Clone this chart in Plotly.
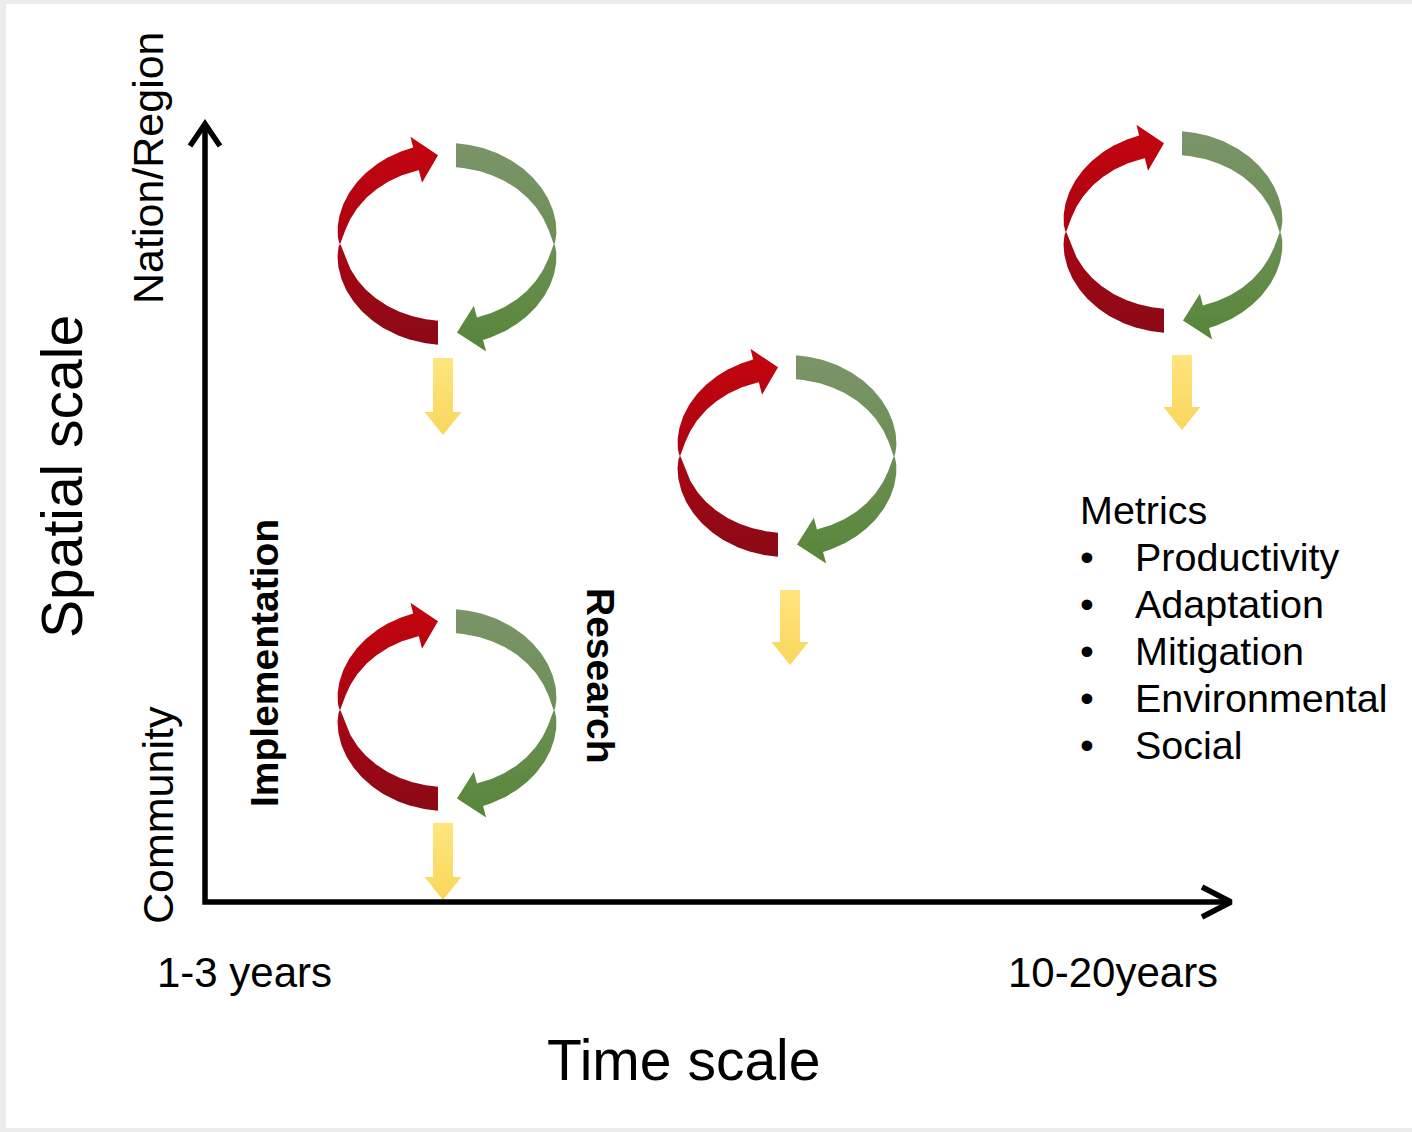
import numpy as np
import plotly.graph_objects as go

# ---------------- data ----------------
# cycle centres (time position, spatial position) in diagram units (pixels of the frame)
cycle_x = [447, 447, 787, 1173]
cycle_y = [244, 710, 456, 232]
# yellow "output" arrows under each cycle: x, shaft top, tip
out_x = [443, 443, 790, 1182]
out_top = [358, 823, 590, 355]
out_tip = [435, 900, 665, 430]

axis_origin = (205, 902)
axis_y_end = 124
axis_x_end = 1231

time_labels = ["1-3 years", "10-20years"]
time_label_x = [244, 1113]
space_labels = ["Nation/Region", "Community"]
space_label_y = [168, 815]

metrics_title = "Metrics"
metrics = ["Productivity", "Adaptation", "Mitigation", "Environmental", "Social"]

FONT = "Liberation Sans, Arial, sans-serif"

fig = go.Figure()

# cycle geometry (mid-line ellipse + twisted ribbon thickness)
A = 107.0
B = 89.0
T = 24.0
P = 0.62
GAP = 9.0


def mid(cx, cy, th):
    return cx + A * np.cos(th), cy - B * np.sin(th)


def normal(th):
    nx, ny = B * np.cos(th), -A * np.sin(th)
    n = np.hypot(nx, ny)
    return nx / n, ny / n


def thick(th):
    return T * np.abs(np.sin(th)) ** P


def edges(cx, cy, ts):
    mx, my = mid(cx, cy, ts)
    nx, ny = normal(ts)
    h = thick(ts) / 2
    return (mx + nx * h, my + ny * h), (mx - nx * h, my - ny * h)


def red_arrow(cx, cy):
    t_bot = 2 * np.pi - np.arccos(-GAP / A)
    t_sh = np.arccos(-31.0 / A)
    ts = np.linspace(t_bot, t_sh, 200)
    (xo, yo), (xi, yi) = edges(cx, cy, ts)
    xo[0] = xi[0] = cx - GAP
    t_tip = np.arccos(-GAP / A)
    tip = mid(cx, cy, t_tip)
    nx, ny = normal(t_sh)
    h = thick(t_sh) / 2
    mx, my = mid(cx, cy, t_sh)
    oc = (mx + nx * (h + 11), my + ny * (h + 11))
    ic = (mx - nx * (h + 13), my - ny * (h + 13))
    xs = list(xo) + [oc[0], tip[0], ic[0]] + list(xi[::-1]) + [xo[0]]
    ys = list(yo) + [oc[1], tip[1], ic[1]] + list(yi[::-1]) + [yo[0]]
    return xs, ys


def green_arrow(cx, cy):
    t_top = np.arccos(GAP / A)
    t_sh = -np.arccos(33.0 / A)
    ts = np.linspace(t_top, t_sh, 200)
    (xo, yo), (xi, yi) = edges(cx, cy, ts)
    xo[0] = xi[0] = cx + GAP
    t_tip = -np.arccos(10.0 / A)
    tip = mid(cx, cy, t_tip)
    nx, ny = normal(t_sh)
    h = thick(t_sh) / 2
    mx, my = mid(cx, cy, t_sh)
    oc = (mx + nx * (h + 12), my + ny * (h + 12))
    ic = (mx - nx * (h + 12), my - ny * (h + 12))
    xs = list(xo) + [oc[0], tip[0], ic[0]] + list(xi[::-1]) + [xo[0]]
    ys = list(yo) + [oc[1], tip[1], ic[1]] + list(yi[::-1]) + [yo[0]]
    return xs, ys


for cx, cy in zip(cycle_x, cycle_y):
    xs, ys = red_arrow(cx, cy)
    fig.add_trace(go.Scatter(
        x=xs, y=ys, mode="lines", fill="toself", line=dict(width=0, color="rgba(0,0,0,0)"),
        fillgradient=dict(type="vertical", start=min(ys), stop=max(ys),
                          colorscale=[[0, "#C4050E"], [0.45, "#AE0412"], [1, "#8A0A16"]]),
        hoverinfo="skip", showlegend=False))
    xs, ys = green_arrow(cx, cy)
    fig.add_trace(go.Scatter(
        x=xs, y=ys, mode="lines", fill="toself", line=dict(width=0, color="rgba(0,0,0,0)"),
        fillgradient=dict(type="vertical", start=min(ys), stop=max(ys),
                          colorscale=[[0, "#7B9469"], [0.5, "#6C8F55"], [1, "#578638"]]),
        hoverinfo="skip", showlegend=False))

# yellow output arrows
for x, top, tip in zip(out_x, out_top, out_tip):
    hw, hh, hl = 10, 18.5, 23
    xs = [x - hw, x + hw, x + hw, x + hh, x, x - hh, x - hw, x - hw]
    ys = [top, top, tip - hl, tip - hl, tip, tip - hl, tip - hl, top]
    fig.add_trace(go.Scatter(
        x=xs, y=ys, mode="lines", fill="toself", line=dict(width=0, color="rgba(0,0,0,0)"),
        fillgradient=dict(type="vertical", start=top, stop=tip,
                          colorscale=[[0, "#FFE57F"], [1, "#F9D65C"]]),
        hoverinfo="skip", showlegend=False))

# axes (L shape with chevron heads)
ox, oy = axis_origin
fig.add_trace(go.Scatter(x=[ox, ox, axis_x_end], y=[axis_y_end + 2, oy, oy], mode="lines",
                         line=dict(color="black", width=5.5), hoverinfo="skip", showlegend=False))
fig.add_trace(go.Scatter(x=[ox - 15, ox, ox + 15], y=[axis_y_end + 22, axis_y_end, axis_y_end + 22],
                         mode="lines", line=dict(color="black", width=5.5), hoverinfo="skip",
                         showlegend=False))
fig.add_trace(go.Scatter(x=[axis_x_end - 29, axis_x_end, axis_x_end - 29], y=[oy - 15, oy, oy + 15],
                         mode="lines", line=dict(color="black", width=5.5), hoverinfo="skip",
                         showlegend=False))

ann = []


def txt(x, y, t, size, angle=0, bold=False, xanchor="center"):
    ann.append(dict(x=x, y=y, xref="x", yref="y", text=("<b>%s</b>" % t) if bold else t,
                    showarrow=False, textangle=angle, xanchor=xanchor, yanchor="middle",
                    font=dict(family=FONT, size=size, color="black")))


txt(62, 477, "Spatial scale", 57, angle=-90)
txt(683, 1060, "Time scale", 57)
for lab, x in zip(time_labels, time_label_x):
    txt(x, 972, lab, 42)
txt(148, space_label_y[0], space_labels[0], 43, angle=-90)
txt(158, space_label_y[1], space_labels[1], 43, angle=-90)
txt(264, 663, "Implementation", 39, angle=-90, bold=True)
txt(601, 676, "Research", 39, angle=90, bold=True)

txt(1078, 510, metrics_title, 39.5, xanchor="left")
for i, m in enumerate(metrics):
    y = 557 + 47 * i
    txt(1087, y, "•", 39.5)
    txt(1133, y, m, 39.5, xanchor="left")

fig.update_layout(
    width=1412, height=1132,
    margin=dict(l=6, r=0, t=4, b=4),
    paper_bgcolor="#ECECEA", plot_bgcolor="white",
    xaxis=dict(range=[6, 1412], visible=False, fixedrange=True),
    yaxis=dict(range=[1128, 4], visible=False, fixedrange=True),
    annotations=ann,
    showlegend=False,
)

fig.write_html("out.html", config={"displayModeBar": False},
               post_script="document.body.style.margin='0px';document.body.style.overflow='hidden';")
